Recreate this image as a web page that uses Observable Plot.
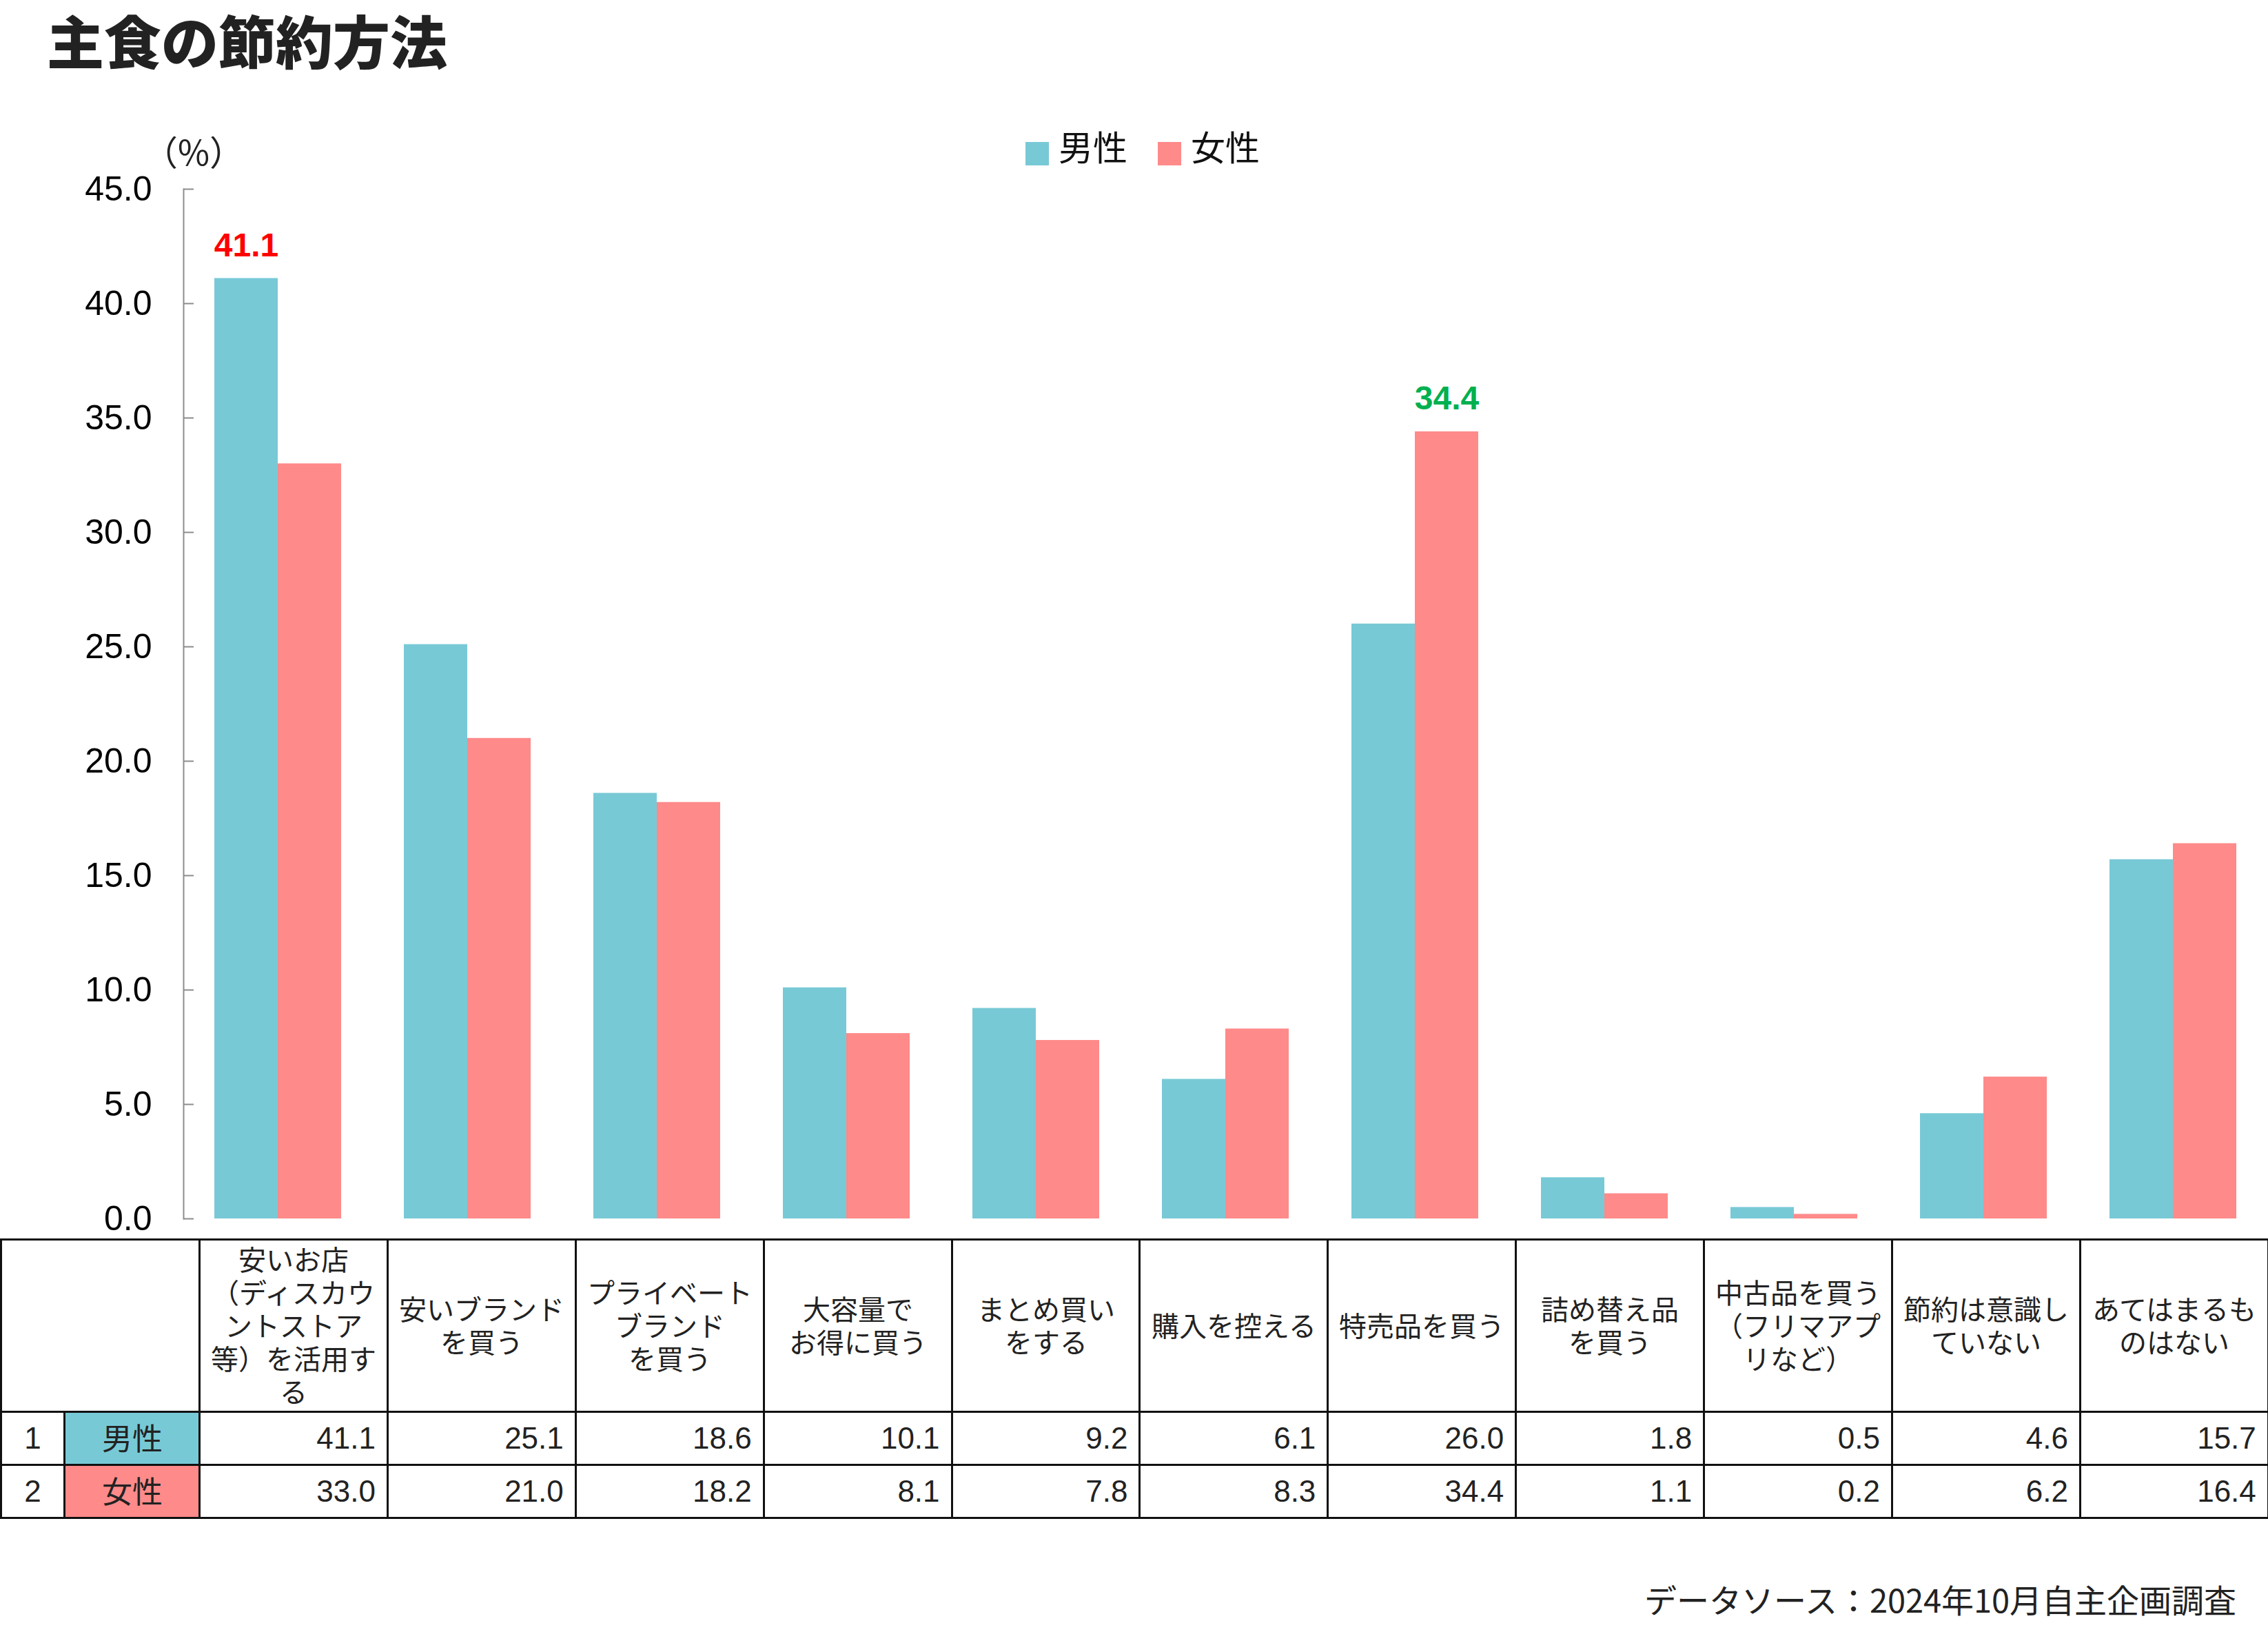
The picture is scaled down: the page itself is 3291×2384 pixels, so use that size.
<!DOCTYPE html>
<html lang="ja">
<head>
<meta charset="utf-8">
<script src="https://cdn.jsdelivr.net/npm/d3@7"></script>
<script src="https://cdn.jsdelivr.net/npm/@observablehq/plot@0.6"></script>
<style>
  /* Japanese face with a compact line box, so tightly set lines do not overlap */
  @font-face {
    font-family: "JPText";
    src: local("Noto Sans CJK JP"), local("Noto Sans CJK JP Regular"), local("NotoSansCJKjp-Regular");
    font-weight: 400;
    ascent-override: 88%;
    descent-override: 12%;
    line-gap-override: 0%;
  }
  @font-face {
    font-family: "JPTitle";
    src: local("Noto Sans CJK JP Black"), local("NotoSansCJKjp-Black"), local("Noto Sans CJK JP Bold"), local("NotoSansCJKjp-Bold");
    font-weight: 900;
    ascent-override: 88%;
    descent-override: 12%;
    line-gap-override: 0%;
  }
  html, body { margin: 0; padding: 0; background: #fff; }
  #page { position: relative; width: 3291px; height: 2384px; overflow: hidden;
          font-family: "JPText", "Noto Sans CJK JP", "Noto Sans", sans-serif; color: #222; }
  #title { position: absolute; left: 68px; top: 20px; font-family: "JPTitle", "Noto Sans CJK JP", sans-serif;
           font-size: 83px; font-weight: 900; line-height: 83px; color: #222; white-space: nowrap; }
  #unit { position: absolute; left: 281px; top: 196px; font-size: 50px; line-height: 50px;
          transform: translateX(-50%); color: #222; white-space: nowrap; }
  .swatch { position: absolute; width: 34px; height: 34px; top: 206px; }
  .legend-text { position: absolute; top: 189px; font-size: 50px; line-height: 50px; color: #111; white-space: nowrap; }
  #chart { position: absolute; left: 0; top: 150px; }
  #table { position: absolute; left: 0; top: 1797px; border-collapse: collapse; table-layout: fixed; width: 3290px; }
  #table td { border: 3px solid #111; padding: 0; }
  #table .head { height: 247px; text-align: center; vertical-align: middle; font-size: 40px; color: #222; }
  #table .head .line { height: 48px; line-height: 48px; white-space: nowrap; }
  #table .row td { height: 74px; vertical-align: middle; }
  #table .idx { text-align: center; font-family: "Liberation Sans", Arial, sans-serif; font-size: 44px; color: #222; }
  #table .who { text-align: center; font-size: 44px; color: #222; }
  #table .num { text-align: right; padding-right: 16px; font-family: "Liberation Sans", Arial, sans-serif; font-size: 44px; color: #222; }
  #source { position: absolute; right: 46px; top: 2299px; font-size: 47px; line-height: 47px; color: #222; white-space: nowrap; }
</style>
</head>
<body>
<div id="page">
  <div id="title">主食の節約方法</div>
  <div id="unit">（%）</div>
  <div id="legend"></div>
  <div id="chart"></div>
  <table id="table"></table>
  <div id="source">データソース：2024年10月自主企画調査</div>
</div>
<script>
// Survey answers: ways people save on staple food (multiple answers, %)
const categories = [
  "安いお店（ディスカウントストア等）を活用する",
  "安いブランドを買う",
  "プライベートブランドを買う",
  "大容量でお得に買う",
  "まとめ買いをする",
  "購入を控える",
  "特売品を買う",
  "詰め替え品を買う",
  "中古品を買う（フリマアプリなど）",
  "節約は意識していない",
  "あてはまるものはない"
];
// Header text of the table, broken into lines as printed
const headerLines = [
  ["安いお店", "（ディスカウ", "ントストア", "等）を活用す", "る"],
  ["安いブランド", "を買う"],
  ["プライベート", "ブランド", "を買う"],
  ["大容量で", "お得に買う"],
  ["まとめ買い", "をする"],
  ["購入を控える"],
  ["特売品を買う"],
  ["詰め替え品", "を買う"],
  ["中古品を買う", "（フリマアプ", "リなど）"],
  ["節約は意識し", "ていない"],
  ["あてはまるも", "のはない"]
];
const series = ["男性", "女性"];
const male   = [41.1, 25.1, 18.6, 10.1, 9.2, 6.1, 26.0, 1.8, 0.5, 4.6, 15.7];
const female = [33.0, 21.0, 18.2,  8.1, 7.8, 8.3, 34.4, 1.1, 0.2, 6.2, 16.4];
const seriesColors = ["#78C9D6", "#FF8A8A"];
const peakColors = ["#FF0000", "#00B050"];   // highlight colour for each series' highest value
const yTicks = [0, 5, 10, 15, 20, 25, 30, 35, 40, 45];

const values = [male, female];
const fmt = d3.format(".1f");

// Long-format rows for the grouped bars
const rows = categories.flatMap((c, i) =>
  series.map((s, j) => ({category: c, gender: s, value: values[j][i]})));

// The highest answer of each series gets a coloured value label
const peaks = series.map((s, j) => {
  const i = d3.maxIndex(values[j]);
  return {category: categories[i], gender: s, value: values[j][i], color: peakColors[j]};
});

// Legend
const legend = document.getElementById("legend");
const legendPos = [[1488, 1536], [1680, 1728]];
series.forEach((s, j) => {
  const sw = document.createElement("div");
  sw.className = "swatch";
  sw.style.left = legendPos[j][0] + "px";
  sw.style.background = seriesColors[j];
  legend.appendChild(sw);
  const tx = document.createElement("div");
  tx.className = "legend-text";
  tx.style.left = legendPos[j][1] + "px";
  tx.textContent = s;
  legend.appendChild(tx);
});

// Chart
const chart = Plot.plot({
  width: 3291,
  height: 1650,
  marginTop: 124,
  marginBottom: 32,
  marginLeft: 266,
  marginRight: 0,
  style: {fontFamily: "'Liberation Sans', Arial, sans-serif", background: "transparent", overflow: "visible"},
  fx: {domain: categories, paddingInner: 0.33, paddingOuter: 0.165, axis: null, label: null},
  x: {domain: series, padding: 0, axis: null},
  y: {domain: [0, 45], axis: null},
  color: {domain: series, range: seriesColors},
  marks: [
    Plot.barY(rows, {fx: "category", x: "gender", y: "value", fill: "gender"}),
    Plot.frame({anchor: "left", facetAnchor: "left", stroke: "#8C8C8C", strokeWidth: 2, dx: -45}),
    Plot.axisY(yTicks, {
      anchor: "left",
      tickFormat: fmt,
      tickSize: -15,
      tickPadding: 61,
      stroke: "#8C8C8C",
      strokeWidth: 2,
      dx: -45,
      fill: "#000",
      fontSize: 50,
      label: null
    }),
    ...peaks.map(p => Plot.text([p], {
      fx: "category", x: "gender", y: "value",
      text: d => fmt(d.value),
      fill: p.color,
      fontWeight: "bold",
      fontSize: 48,
      lineAnchor: "bottom",
      dy: -32
    }))
  ]
});
document.getElementById("chart").appendChild(chart);

// Data table under the chart
const table = document.getElementById("table");
const colgroup = document.createElement("colgroup");
[92, 196, ...categories.map(() => 272.9)].forEach(w => {
  const col = document.createElement("col");
  col.style.width = w + "px";
  colgroup.appendChild(col);
});
table.appendChild(colgroup);

const head = document.createElement("tr");
const corner = document.createElement("td");
corner.colSpan = 2;
corner.className = "head";
head.appendChild(corner);
headerLines.forEach(lines => {
  const td = document.createElement("td");
  td.className = "head";
  lines.forEach(t => {
    const line = document.createElement("div");
    line.className = "line";
    line.textContent = t;
    td.appendChild(line);
  });
  head.appendChild(td);
});
table.appendChild(head);

series.forEach((s, j) => {
  const tr = document.createElement("tr");
  tr.className = "row";
  const idx = document.createElement("td");
  idx.className = "idx";
  idx.textContent = String(j + 1);
  tr.appendChild(idx);
  const who = document.createElement("td");
  who.className = "who";
  who.textContent = s;
  who.style.background = seriesColors[j];
  tr.appendChild(who);
  values[j].forEach(v => {
    const td = document.createElement("td");
    td.className = "num";
    td.textContent = fmt(v);
    tr.appendChild(td);
  });
  table.appendChild(tr);
});
</script>
</body>
</html>
